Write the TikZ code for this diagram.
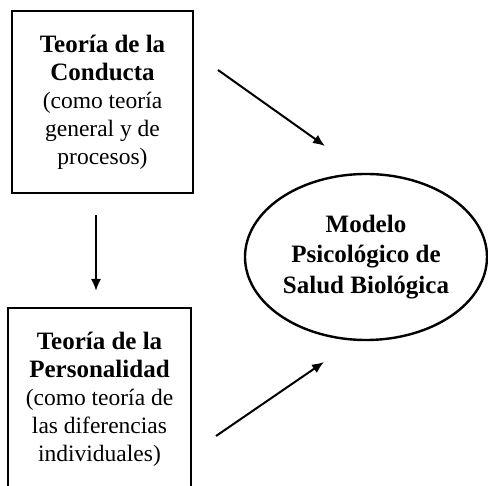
\documentclass[tikz,border=0pt]{standalone}
\usepackage{fontspec}
\setmainfont{Liberation Serif}
\usetikzlibrary{shapes.geometric,arrows.meta}

\newcommand{\negrita}[1]{{\bfseries\fontsize{25}{28}\selectfont #1}}

\tikzset{
    teoria/.style={draw, line width=2.8pt, align=center, inner sep=0pt, font=\fontsize{23.5}{28}\selectfont},
    modelo/.style={draw, ellipse, line width=2.4pt, align=center, inner sep=0pt, font=\fontsize{25}{30.5}\selectfont\bfseries},
    flecha/.style={-{Latex[length=12pt,width=10pt]}, line width=2pt}
}

\begin{document}
\begin{tikzpicture}[x=1pt, y=-1pt]
    \useasboundingbox (0,0) rectangle (488,486);

    % boxes on the left
    \node[teoria, minimum width=181, minimum height=182] (conducta) at (102.5,102)
        {\negrita{Teoría de la}\\ \negrita{Conducta}\\ (como teoría\\ general y de\\ procesos)};
    \node[teoria, minimum width=183, minimum height=182] (personalidad) at (99.5,399)
        {\negrita{Teoría de la}\\ \negrita{Personalidad}\\ (como teoría de\\ las diferencias\\ individuales)};

    % ellipse on the right
    \node[modelo, minimum width=242, minimum height=166] (salud) at (366,257)
        {Modelo\\ Psicológico de\\ Salud Biológica};

    % arrow ends
    \coordinate (c1) at (218,70);
    \coordinate (c2) at (325,146);
    \coordinate (c3) at (96,215);
    \coordinate (c4) at (96,291);
    \coordinate (c5) at (216,436);
    \coordinate (c6) at (324,362);

    \draw[flecha] (c1) -- (c2);
    \draw[flecha] (c3) -- (c4);
    \draw[flecha] (c5) -- (c6);
\end{tikzpicture}
\end{document}
